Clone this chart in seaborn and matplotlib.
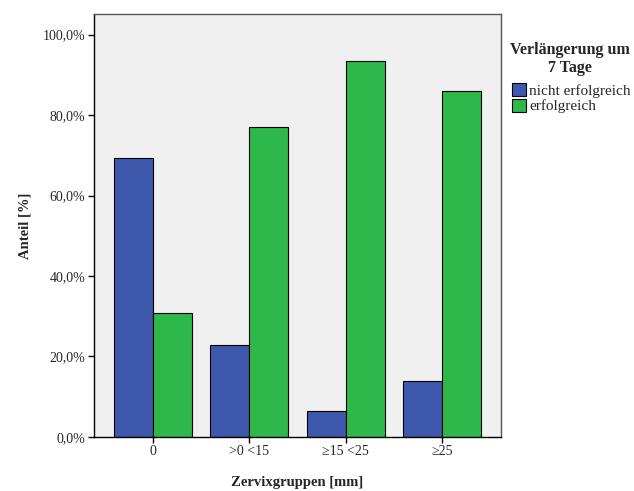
import pandas as pd
import matplotlib.pyplot as plt
import seaborn as sns
from matplotlib.ticker import FuncFormatter

# Werte (Anteil in %)
zervixgruppen = ["0", ">0 <15", "≥15 <25", "≥25"]
nicht_erfolgreich = [69.2, 22.9, 6.5, 14.0]
erfolgreich = [30.8, 77.0, 93.5, 86.0]
verlaengerung = ["nicht erfolgreich", "erfolgreich"]
farben = ["#3E58AC", "#2EB84A"]

df = pd.DataFrame({
    "Zervixgruppe": zervixgruppen * 2,
    "Anteil": nicht_erfolgreich + erfolgreich,
    "Verlängerung": [verlaengerung[0]] * 4 + [verlaengerung[1]] * 4,
})

sns.set_style("white")
plt.rcParams["font.family"] = ["Liberation Serif", "DejaVu Serif"]

fig = plt.figure(figsize=(6.34, 4.91), dpi=100)
ax = fig.add_axes([0.148, 0.110, 0.642, 0.8615])
ax.set_facecolor("#F0F0F0")

sns.barplot(data=df, x="Zervixgruppe", y="Anteil", hue="Verlängerung",
            order=zervixgruppen, hue_order=verlaengerung, palette=farben,
            width=0.81, gap=0, edgecolor="black", linewidth=0.8,
            saturation=1, errorbar=None, ax=ax)

ax.set_ylim(0, 105.1)
ax.set_xlim(-0.615, 3.61)
ax.set_yticks([0, 20, 40, 60, 80, 100])
ax.yaxis.set_major_formatter(FuncFormatter(lambda v, p: f"{v:.1f}%".replace(".", ",")))
ax.tick_params(axis="both", direction="out", length=4, width=1, color="black",
               labelsize=10, left=True, bottom=True, pad=2)

ax.set_xlabel("Zervixgruppen [mm]", fontsize=10.5, fontweight="bold", labelpad=13)
ax.set_ylabel("Anteil [%]", fontsize=10.5, fontweight="bold", labelpad=8)

for side in ["left", "bottom"]:
    ax.spines[side].set_color("black")
    ax.spines[side].set_linewidth(1)
for side in ["top", "right"]:
    ax.spines[side].set_color("#555555")
    ax.spines[side].set_linewidth(1)

# Legende: Titel separat, damit der Abstand wie im Original ist
handles, labels = ax.get_legend_handles_labels()
ax.get_legend().remove()
fig.text(0.899, 1 - 42 / 491, "Verlängerung um\n7 Tage", ha="center", va="top",
         fontsize=11.5, fontweight="bold", linespacing=1.2, multialignment="center")
fig.legend(handles, labels, loc="upper left", bbox_to_anchor=(0.807, 1 - 83 / 491),
           frameon=False, fontsize=11, handlelength=0.95, handleheight=0.95,
           handletextpad=0.2, labelspacing=0.05, borderpad=0, borderaxespad=0)

fig.savefig("out.png", dpi=100)
